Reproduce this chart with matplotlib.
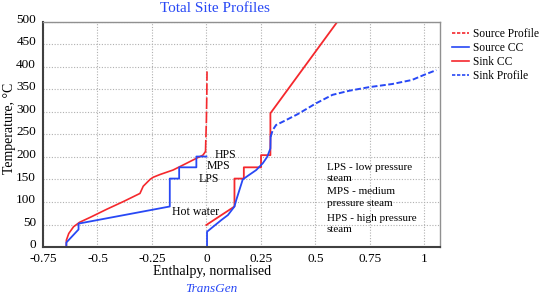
import matplotlib
matplotlib.use("Agg")
import matplotlib.pyplot as plt
import matplotlib.transforms as mtransforms
from matplotlib.lines import Line2D

plt.rcParams['font.family'] = ['Liberation Serif', 'DejaVu Serif']

# Source profile (red dashed)
src_prof_x = [-0.643, -0.643, -0.632, -0.61, -0.582, -0.533, -0.457, -0.381, -0.305, -0.29, -0.259,
              -0.244, -0.213, -0.153, -0.091, -0.046, -0.016, -0.004, -0.003, 0.0, 0.002, 0.003]
src_prof_y = [0, 15, 30, 45, 55, 66, 84, 101, 119, 135, 150,
              155, 161, 171, 186, 197, 204, 212, 230, 280, 340, 390]
# Source composite curve (blue solid)
src_cc_x = [-0.643, -0.643, -0.587, -0.587, -0.168, -0.168, -0.125, -0.125, -0.046, -0.046, 0.0]
src_cc_y = [0, 10, 39, 52, 90, 152, 152, 177, 177, 201, 201]
# Sink composite curve (red solid)
sink_cc_x = [0.0, 0.129, 0.129, 0.172, 0.172, 0.251, 0.251, 0.294, 0.294, 0.601]
sink_cc_y = [49, 90, 152, 152, 177, 177, 204, 204, 297, 500]
# Sink profile (blue dashed)
sink_prof_x = [0.003, 0.003, 0.069, 0.099, 0.129, 0.137, 0.152, 0.167, 0.19, 0.229, 0.259, 0.279,
               0.294, 0.295, 0.305, 0.32, 0.358, 0.419, 0.503, 0.579, 0.655, 0.746, 0.853, 0.944,
               0.998, 1.056]
sink_prof_y = [0, 34, 60, 71, 90, 104, 127, 150, 158, 171, 186, 200,
               219, 245, 260, 271, 280, 295, 319, 338, 347, 355, 362, 371,
               382, 393]

xticks = [-0.75, -0.5, -0.25, 0, 0.25, 0.5, 0.75, 1]
xtick_labels = ['-0.75', '-0.5', '-0.25', '0', '0.25', '0.5', '0.75', '1']
yticks = [0, 50, 100, 150, 200, 250, 300, 350, 400, 450, 500]

steam_labels = ['HPS', 'MPS', 'LPS', 'Hot water']
steam_label_pos = [(0.038, 204), (0.0, 179), (-0.034, 152), (-0.16, 78)]

notes = ['LPS - low pressure\nsteam', 'MPS - medium\npressure steam', 'HPS - high pressure\nsteam']
notes_y = [165, 110, 52]

RED = '#f5282d'
BLUE = '#2848f5'

fig = plt.figure(figsize=(5.45, 2.96), dpi=100)
ax = fig.add_axes([0.079, 0.1655, 0.728, 0.7605])

# source profile: lower curve looks solid, upper vertical dashed
n_src_solid = 18
ax.plot(src_prof_x[:n_src_solid], src_prof_y[:n_src_solid], color=RED, lw=1.2)
ax.plot(src_prof_x[n_src_solid - 1:], src_prof_y[n_src_solid - 1:], color=RED, lw=1.2, dashes=(7, 1.5))
ax.plot(src_cc_x, src_cc_y, color=BLUE, lw=1.3)
ax.plot(sink_cc_x, sink_cc_y, color=RED, lw=1.3)
n_sink_solid = 14
ax.plot(sink_prof_x[:n_sink_solid], sink_prof_y[:n_sink_solid], color=BLUE, lw=1.3)
ax.plot(sink_prof_x[n_sink_solid - 1:], sink_prof_y[n_sink_solid - 1:], color=BLUE, lw=1.4, dashes=(3, 1.3))

ax.set_xlim(-0.75, 1.072)
ax.set_ylim(0, 500)
ax.set_xticks(xticks)
ax.set_xticklabels(xtick_labels)
ax.set_yticks(yticks)
ax.tick_params(axis='both', length=0, labelsize=9.5)
ax.tick_params(axis='x', pad=4)
ax.tick_params(axis='y', pad=5)
offset = mtransforms.ScaledTranslation(0, 2.5 / 72, fig.dpi_scale_trans)
for lbl in ax.get_yticklabels():
    lbl.set_transform(lbl.get_transform() + offset)
ax.grid(True, color='#b0b0b0', linestyle=(0, (1, 1.5)), lw=0.8)
ax.set_axisbelow(True)
for s in ['left', 'bottom']:
    ax.spines[s].set_color('#404040')
    ax.spines[s].set_linewidth(1.5)
for s in ['top', 'right']:
    ax.spines[s].set_color('#909090')
    ax.spines[s].set_linewidth(1.0)

for lab, (lx, ly) in zip(steam_labels, steam_label_pos):
    ax.text(lx, ly, lab, fontsize=8.5, ha='left', va='center')
for n, ny in zip(notes, notes_y):
    ax.text(0.552, ny, n, fontsize=8, ha='left', va='center', linespacing=1.3)

fig.text(0.39, 1 - 271 / 296, 'Enthalpy, normalised', fontsize=10, ha='center', va='center')
fig.text(0.018, 1 - 128 / 296, 'Temperature, °C', fontsize=10, ha='center', va='center', rotation=90)
fig.text(0.394, 1 - 8 / 296, 'Total Site Profiles', fontsize=11, color=BLUE, ha='center', va='center')
fig.text(0.387, 1 - 289 / 296, 'TransGen', fontsize=9.5, color=BLUE, style='italic', ha='center', va='center')

handles = [Line2D([], [], color=RED, lw=1.2, dashes=(2, 1)),
           Line2D([], [], color=BLUE, lw=1.2),
           Line2D([], [], color=RED, lw=1.2),
           Line2D([], [], color=BLUE, lw=1.2, dashes=(2, 1))]
labels = ['Source Profile', 'Source CC', 'Sink CC', 'Sink Profile']
fig.legend(handles, labels, loc='upper left', bbox_to_anchor=(0.829, 0.906), frameon=False,
           fontsize=8.3, handlelength=1.5, handletextpad=0.35, labelspacing=0.18, borderaxespad=0,
           borderpad=0)

fig.savefig('out.png', dpi=100)
